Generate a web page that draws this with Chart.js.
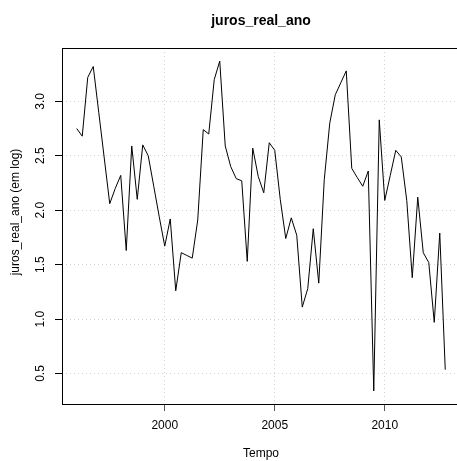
<!DOCTYPE html>
<html>
<head>
<meta charset="utf-8">
<script src="https://cdn.jsdelivr.net/npm/chart.js@4"></script>
<style>
  html, body { margin: 0; padding: 0; background: #fff; overflow: hidden; }
  canvas { display: block; }
</style>
</head>
<body>
<canvas id="chart" width="462" height="461"></canvas>
<script>
// quarterly series, 1996 Q1 .. 2012 Q4
const tempo = [
  1996.00, 1996.25, 1996.50, 1996.75, 1997.00, 1997.25, 1997.50, 1997.75,
  1998.00, 1998.25, 1998.50, 1998.75, 1999.00, 1999.25, 1999.50, 1999.75,
  2000.00, 2000.25, 2000.50, 2000.75, 2001.00, 2001.25, 2001.50, 2001.75,
  2002.00, 2002.25, 2002.50, 2002.75, 2003.00, 2003.25, 2003.50, 2003.75,
  2004.00, 2004.25, 2004.50, 2004.75, 2005.00, 2005.25, 2005.50, 2005.75,
  2006.00, 2006.25, 2006.50, 2006.75, 2007.00, 2007.25, 2007.50, 2007.75,
  2008.00, 2008.25, 2008.50, 2008.75, 2009.00, 2009.25, 2009.50, 2009.75,
  2010.00, 2010.25, 2010.50, 2010.75, 2011.00, 2011.25, 2011.50, 2011.75,
  2012.00, 2012.25, 2012.50, 2012.75
];
const jurosRealAno = [
  2.75, 2.68, 3.22, 3.32, 2.90, 2.48, 2.06, 2.20,
  2.32, 1.63, 2.59, 2.10, 2.60, 2.50, 2.22, 1.94,
  1.67, 1.92, 1.26, 1.61, 1.585, 1.56, 1.91, 2.74,
  2.70, 3.20, 3.37, 2.59, 2.40, 2.29, 2.27, 1.53,
  2.57, 2.31, 2.16, 2.62, 2.55, 2.10, 1.74, 1.93,
  1.77, 1.11, 1.28, 1.83, 1.33, 2.28, 2.80, 3.06,
  3.17, 3.28, 2.385, 2.30, 2.22, 2.36, 0.34, 2.83,
  2.09, 2.32, 2.55, 2.49, 2.09, 1.38, 2.12, 1.61,
  1.52, 0.97, 1.79, 0.535
];
const xTicks = [2000, 2005, 2010];
const yTicks = [0.5, 1.0, 1.5, 2.0, 2.5, 3.0];
const xTickLabels = ['2000', '2005', '2010'];
const yTickLabels = ['0.5', '1.0', '1.5', '2.0', '2.5', '3.0'];

const titulo = 'juros_real_ano';
const xTitulo = 'Tempo';
const yTitulo = 'juros_real_ano (em log)';

const FONT = '"Liberation Sans", Arial, Helvetica, sans-serif';

// box, rotated y labels and titles in base-R style
const rStyle = {
  id: 'rStyle',
  afterDraw(chart) {
    const ctx = chart.ctx;
    const area = chart.chartArea;
    const yScale = chart.scales.y;
    ctx.save();
    ctx.strokeStyle = '#000';
    ctx.lineWidth = 1;
    ctx.strokeRect(Math.round(area.left) + 0.5, Math.round(area.top) + 0.5,
      Math.round(area.right - area.left), Math.round(area.bottom - area.top));

    ctx.fillStyle = '#000';
    ctx.font = '12px ' + FONT;
    ctx.textAlign = 'center';
    ctx.textBaseline = 'alphabetic';
    yTicks.forEach((v, i) => {
      const py = yScale.getPixelForValue(v);
      ctx.save();
      ctx.translate(43.5, py);
      ctx.rotate(-Math.PI / 2);
      ctx.fillText(yTickLabels[i], 0, 0);
      ctx.restore();
    });

    ctx.save();
    ctx.translate(18.5, 212);
    ctx.rotate(-Math.PI / 2);
    ctx.fillText(yTitulo, 0, 0);
    ctx.restore();

    ctx.fillText(xTitulo, (area.left + area.right) / 2, 457);

    ctx.font = 'bold 14px ' + FONT;
    ctx.fillText(titulo, (area.left + area.right) / 2, 25);
    ctx.restore();
  }
};

const ctx = document.getElementById('chart').getContext('2d');
new Chart(ctx, {
  type: 'line',
  data: {
    datasets: [{
      label: titulo,
      data: tempo.map((t, i) => ({ x: t, y: jurosRealAno[i] })),
      borderColor: '#000',
      borderWidth: 1,
      pointRadius: 0,
      tension: 0,
      fill: false
    }]
  },
  options: {
    responsive: false,
    animation: false,
    layout: { padding: { top: 48, right: 2, left: 0, bottom: 0 } },
    plugins: {
      legend: { display: false },
      tooltip: { enabled: false },
      title: { display: false }
    },
    scales: {
      x: {
        type: 'linear',
        min: 1995.33,
        max: 2013.42,
        afterBuildTicks(scale) { scale.ticks = xTicks.map(v => ({ value: v })); },
        afterFit(scale) { scale.height = 57; },
        ticks: {
          callback: (v) => xTickLabels[xTicks.indexOf(v)],
          color: '#000',
          font: { family: FONT, size: 12 },
          padding: 7,
          maxRotation: 0
        },
        grid: {
          color: '#d3d3d3',
          tickColor: '#555',
          tickLength: 7,
          tickBorderDash: [],
          lineWidth: 1
        },
        border: { display: false, dash: [1, 3] }
      },
      y: {
        type: 'linear',
        min: 0.22,
        max: 3.49,
        afterBuildTicks(scale) { scale.ticks = yTicks.map(v => ({ value: v })); },
        afterFit(scale) { scale.width = 62; },
        ticks: { display: false },
        grid: {
          color: '#d3d3d3',
          tickColor: '#000',
          tickLength: 7,
          tickBorderDash: [],
          lineWidth: 1
        },
        border: { display: false, dash: [1, 3] }
      }
    }
  },
  plugins: [rStyle]
});
</script>
</body>
</html>
